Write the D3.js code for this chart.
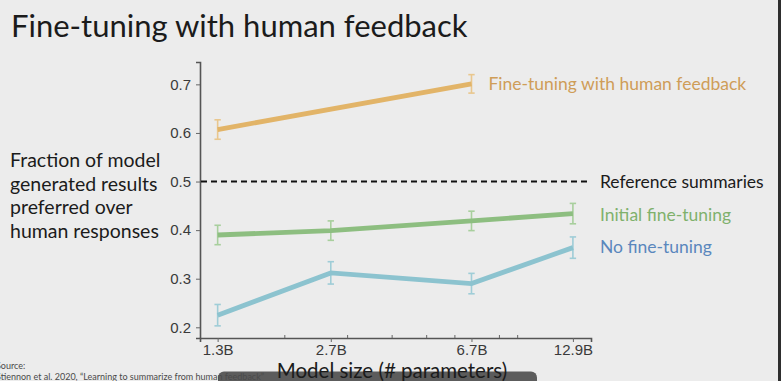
<!DOCTYPE html>
<html>
<head>
<meta charset="utf-8">
<script src="https://cdn.jsdelivr.net/npm/d3@7"></script>
<style>
  html, body { margin: 0; padding: 0; background: #ececec; overflow: hidden; }
  svg { display: block; }
</style>
</head>
<body>
<div id="chart"></div>
<script>
// values
var sizeLabels = ["1.3B", "2.7B", "6.7B", "12.9B"];
var sizeValues = [1.3, 2.7, 6.7, 12.9];
var minorTicks = [2, 3, 4, 5, 6, 8, 9];
var yTicks = [0.2, 0.3, 0.4, 0.5, 0.6, 0.7];

var humanSizes = [1.3, 6.7];
var humanValues = [0.607, 0.701];
var humanErr = [0.020, 0.019];

var initialValues = [0.390, 0.399, 0.419, 0.434];
var initialErr = [0.020, 0.020, 0.020, 0.021];

var noTuneValues = [0.225, 0.312, 0.290, 0.364];
var noTuneErr = [0.022, 0.023, 0.021, 0.022];

var referenceValue = 0.5;

var width = 781, height = 381;

var svg = d3.select("#chart")
  .append("svg")
  .attr("width", width)
  .attr("height", height);

svg.append("rect").attr("width", width).attr("height", height).attr("fill", "#ececec");

var xScale = d3.scaleLog().domain([1.16, 14.5]).range([200, 591]),
    yScale = d3.scaleLinear().domain([0.178, 0.746]).range([338, 62]);

// title
svg.append("text")
  .attr("x", 11).attr("y", 37)
  .attr("font-family", "Lato")
  .attr("font-size", 31)
  .attr("fill", "#1b1b1b")
  .text("Fine-tuning with human feedback");

// y axis label, four lines
var yLabel = ["Fraction of model", "generated results", "preferred over", "human responses"];
svg.append("g").selectAll("text")
  .data(yLabel)
  .enter().append("text")
  .attr("x", 10)
  .attr("y", function(d, i) { return 167 + i * 23.7; })
  .attr("font-family", "Lato")
  .attr("font-size", 19.5)
  .attr("fill", "#1b1b1b")
  .text(function(d) { return d; });

// axes
var yAxis = svg.append("g")
  .attr("transform", "translate(200,0)")
  .call(d3.axisLeft(yScale).tickValues(yTicks).tickSize(4).tickPadding(5)
    .tickFormat(d3.format(".1f")));

var xAxis = svg.append("g")
  .attr("transform", "translate(0,338)")
  .call(d3.axisBottom(xScale).tickValues(sizeValues).tickSize(4).tickPadding(2)
    .tickFormat(function(d, i) { return sizeLabels[i]; }));

svg.append("g")
  .attr("transform", "translate(0,338)")
  .call(d3.axisBottom(xScale).tickValues(minorTicks).tickSize(-3).tickFormat(""))
  .select(".domain").remove();

svg.selectAll(".domain").attr("stroke", "#555").attr("stroke-width", 1.6);
svg.selectAll(".tick line").attr("stroke", "#666").attr("stroke-width", 1);
svg.selectAll(".tick text")
  .attr("font-family", "Liberation Sans, Arial, sans-serif")
  .attr("font-size", 15)
  .attr("fill", "#3a3a3a");

// reference dashed line
svg.append("line")
  .attr("x1", 201).attr("x2", 587)
  .attr("y1", yScale(referenceValue)).attr("y2", yScale(referenceValue))
  .attr("stroke", "#111")
  .attr("stroke-width", 2)
  .attr("stroke-dasharray", "6,4");

function drawSeries(xs, ys, errs, lineColor, errColor) {
  var pts = xs.map(function(x, i) { return {x: x, y: ys[i], e: errs[i]}; });
  var line = d3.line()
    .x(function(d) { return xScale(d.x); })
    .y(function(d) { return yScale(d.y); });

  var eb = svg.append("g").selectAll("g")
    .data(pts)
    .enter().append("g")
    .attr("stroke", errColor)
    .attr("stroke-width", 1.6);
  eb.append("line")
    .attr("x1", function(d) { return xScale(d.x); })
    .attr("x2", function(d) { return xScale(d.x); })
    .attr("y1", function(d) { return yScale(d.y - d.e); })
    .attr("y2", function(d) { return yScale(d.y + d.e); });
  [-1, 1].forEach(function(s) {
    eb.append("line")
      .attr("x1", function(d) { return xScale(d.x) - 3.2; })
      .attr("x2", function(d) { return xScale(d.x) + 3.2; })
      .attr("y1", function(d) { return yScale(d.y + s * d.e); })
      .attr("y2", function(d) { return yScale(d.y + s * d.e); });
  });

  svg.append("path")
    .datum(pts)
    .attr("fill", "none")
    .attr("stroke", lineColor)
    .attr("stroke-width", 4.8)
    .attr("d", line);
}

drawSeries(sizeValues, noTuneValues, noTuneErr, "#8cc3cf", "#9fcdd7");
drawSeries(sizeValues, initialValues, initialErr, "#8dbe80", "#a8cf9d");
drawSeries(humanSizes, humanValues, humanErr, "#e2b468", "#e9c78e");

// series labels
var labels = [
  {text: "Fine-tuning with human feedback", x: xScale(6.7) + 17, y: yScale(humanValues[1]), color: "#cf9d58"},
  {text: "Reference summaries", x: xScale(12.9) + 27, y: yScale(referenceValue), color: "#1b1b1b"},
  {text: "Initial fine-tuning", x: xScale(12.9) + 27, y: yScale(0.431), color: "#7fb16c"},
  {text: "No fine-tuning", x: xScale(12.9) + 27, y: yScale(0.366), color: "#5a87bd"}
];
svg.append("g").selectAll("text")
  .data(labels)
  .enter().append("text")
  .attr("x", function(d) { return d.x; })
  .attr("y", function(d) { return d.y; })
  .attr("dy", "0.35em")
  .attr("font-family", "Lato")
  .attr("font-size", 17.5)
  .attr("fill", function(d) { return d.color; })
  .text(function(d) { return d.text; });

// video overlay bar at the bottom
svg.append("rect")
  .attr("x", 218).attr("y", 371.5)
  .attr("width", 319).attr("height", 20)
  .attr("rx", 6)
  .attr("fill", "#5c5c5c");

// x axis label
svg.append("text")
  .attr("x", 392).attr("y", 378)
  .attr("text-anchor", "middle")
  .attr("font-family", "Lato")
  .attr("font-size", 20.5)
  .attr("fill", "#1b1b1b")
  .text("Model size (# parameters)");

// source note, cut at the left edge as on the slide
svg.append("text")
  .attr("x", -4).attr("y", 369)
  .attr("font-family", "Lato")
  .attr("font-size", 9)
  .attr("fill", "#4a4a4a")
  .text("Source:");
svg.append("text")
  .attr("x", -4).attr("y", 380)
  .attr("font-family", "Lato")
  .attr("font-size", 9)
  .attr("fill", "#4a4a4a")
  .text("Stiennon et al. 2020, \u201cLearning to summarize from human feedback\u201d");

// dark strip at the right edge
svg.append("rect")
  .attr("x", 778).attr("y", 0)
  .attr("width", 3).attr("height", height)
  .attr("fill", "#2e2e2e");
</script>
</body>
</html>
